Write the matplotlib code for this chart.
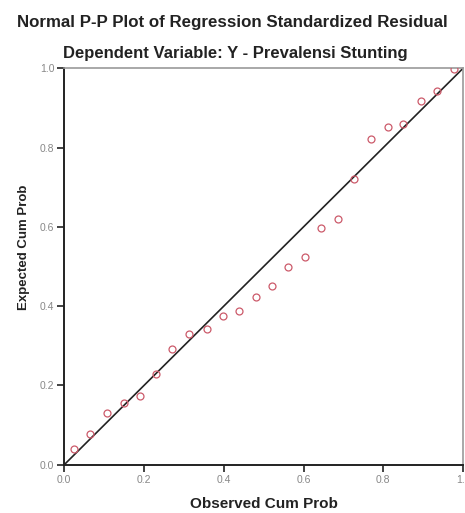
import matplotlib
matplotlib.use("Agg")
import matplotlib.pyplot as plt

# valores (P-P normal de residuos estandarizados)
observed = [0.025, 0.065, 0.108, 0.151, 0.191, 0.231, 0.271, 0.314, 0.357, 0.397,
            0.437, 0.480, 0.520, 0.560, 0.603, 0.643, 0.686, 0.726, 0.769, 0.812,
            0.849, 0.894, 0.935, 0.977]
expected = [0.040, 0.078, 0.131, 0.157, 0.174, 0.230, 0.293, 0.331, 0.343, 0.374,
            0.389, 0.422, 0.452, 0.500, 0.525, 0.596, 0.619, 0.720, 0.821, 0.851,
            0.859, 0.917, 0.942, 0.997]
ticks = [0.0, 0.2, 0.4, 0.6, 0.8, 1.0]
tick_labels = ["0.0", "0.2", "0.4", "0.6", "0.8", "1.0"]

plt.rcParams["font.family"] = ["Liberation Sans", "DejaVu Sans"]

fig = plt.figure(figsize=(4.65, 5.13), dpi=100)
ax = fig.add_axes([0.138, 0.094, 0.858, 0.773])

# linea diagonal de referencia
ax.plot([0, 1], [0, 1], color="#222222", lw=1.2, zorder=2)
ax.plot(observed, expected, "o", mfc="none", mec="#cc5a6a", mew=0.9, ms=5, zorder=3)

ax.set_xlim(0, 1)
ax.set_ylim(0, 1)
ax.set_xticks(ticks)
ax.set_yticks(ticks)
ax.set_xticklabels(tick_labels)
ax.set_yticklabels(tick_labels)
ax.tick_params(direction="out", length=5, width=1.2, color="#222222",
               labelsize=7.5, labelcolor="#888888", pad=2)

for side in ["left", "bottom"]:
    ax.spines[side].set_color("#222222")
    ax.spines[side].set_linewidth(1.4)
for side in ["top", "right"]:
    ax.spines[side].set_color("#999999")
    ax.spines[side].set_linewidth(1.2)

ax.set_xlabel("Observed Cum Prob", fontsize=11, fontweight="bold", color="#222222", labelpad=9)
ax.set_ylabel("Expected Cum Prob", fontsize=9.5, fontweight="bold", color="#222222")
ax.yaxis.set_label_coords(-0.085, 0.548)

fig.text(0.5, 0.957, "Normal P-P Plot of Regression Standardized Residual",
         ha="center", va="center", fontsize=12.2, fontweight="bold", color="#222222")
fig.text(0.505, 0.895, "Dependent Variable: Y - Prevalensi Stunting",
         ha="center", va="center", fontsize=12, fontweight="bold", color="#222222")

fig.savefig("out.png", dpi=100)
